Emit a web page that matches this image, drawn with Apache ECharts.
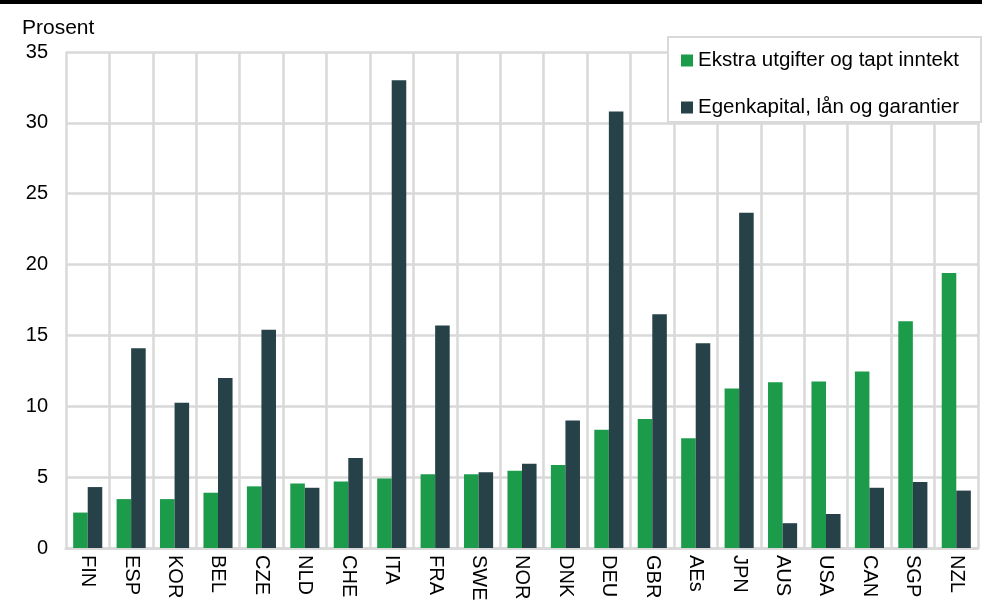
<!DOCTYPE html>
<html>
<head>
<meta charset="utf-8">
<script src="https://cdn.jsdelivr.net/npm/echarts@6/dist/echarts.min.js"></script>
<style>
  html, body { margin: 0; padding: 0; background: #fff; }
  #chart { width: 982px; height: 610px; }
</style>
</head>
<body>
<div id="chart"></div>
<script>
var categories = ['FIN', 'ESP', 'KOR', 'BEL', 'CZE', 'NLD', 'CHE', 'ITA', 'FRA', 'SWE', 'NOR',
  'DNK', 'DEU', 'GBR', 'AEs', 'JPN', 'AUS', 'USA', 'CAN', 'SGP', 'NZL']
var ekstraUtgifter = [2.5, 3.45, 3.45, 3.9, 4.35, 4.55, 4.7, 4.9, 5.2, 5.2, 5.45,
  5.85, 8.35, 9.1, 7.75, 11.25, 11.7, 11.75, 12.45, 16.0, 19.4]
var egenkapital = [4.3, 14.1, 10.25, 12.0, 15.4, 4.25, 6.35, 33.0, 15.7, 5.35, 5.95,
  9.0, 30.8, 16.5, 14.45, 23.65, 1.75, 2.4, 4.25, 4.65, 4.05]
var yTicks = { min: 0, max: 35, interval: 5 }

var chart = echarts.init(document.getElementById('chart'))
var grid = '#d9d9d9'
var font = 'Arial, "Liberation Sans", sans-serif'

chart.setOption({
  animation: false,
  textStyle: { fontFamily: font },
  graphic: [
    { type: 'rect', left: 0, top: 0, shape: { width: 982, height: 4 }, style: { fill: '#000' } },
    // y-axis unit label
    { type: 'text', left: 22, top: 18, style: { text: 'Prosent', fontSize: 21, fill: '#000', fontFamily: font } }
  ],
  grid: { left: 66, right: 4, top: 52, bottom: 62 },
  legend: {
    orient: 'vertical',
    left: 668,
    top: 37,
    padding: [13, 22, 4, 13],
    itemWidth: 12,
    itemHeight: 12,
    itemGap: 26,
    icon: 'rect',
    backgroundColor: '#fff',
    borderColor: grid,
    borderWidth: 2,
    textStyle: { fontSize: 20.5, color: '#000', fontFamily: font }
  },
  xAxis: {
    type: 'category',
    data: categories,
    axisLine: { lineStyle: { color: grid, width: 3 } },
    axisTick: { show: false },
    splitLine: { show: true, interval: 0, lineStyle: { color: grid, width: 2.5 } },
    axisLabel: { rotate: -90, interval: 0, fontSize: 20, color: '#000', margin: 7 }
  },
  yAxis: {
    type: 'value',
    min: yTicks.min,
    max: yTicks.max,
    interval: yTicks.interval,
    axisLine: { show: false },
    axisTick: { show: false },
    splitLine: { lineStyle: { color: grid, width: 2.5 } },
    axisLabel: { fontSize: 20, color: '#000', margin: 18 }
  },
  series: [
    {
      name: 'Ekstra utgifter og tapt inntekt',
      type: 'bar',
      data: ekstraUtgifter,
      barGap: '0%',
      barCategoryGap: '33%',
      itemStyle: { color: '#1c9b4a' }
    },
    {
      name: 'Egenkapital, lån og garantier',
      type: 'bar',
      data: egenkapital,
      barGap: '0%',
      barCategoryGap: '33%',
      itemStyle: { color: '#264148' }
    }
  ]
})
</script>
</body>
</html>
